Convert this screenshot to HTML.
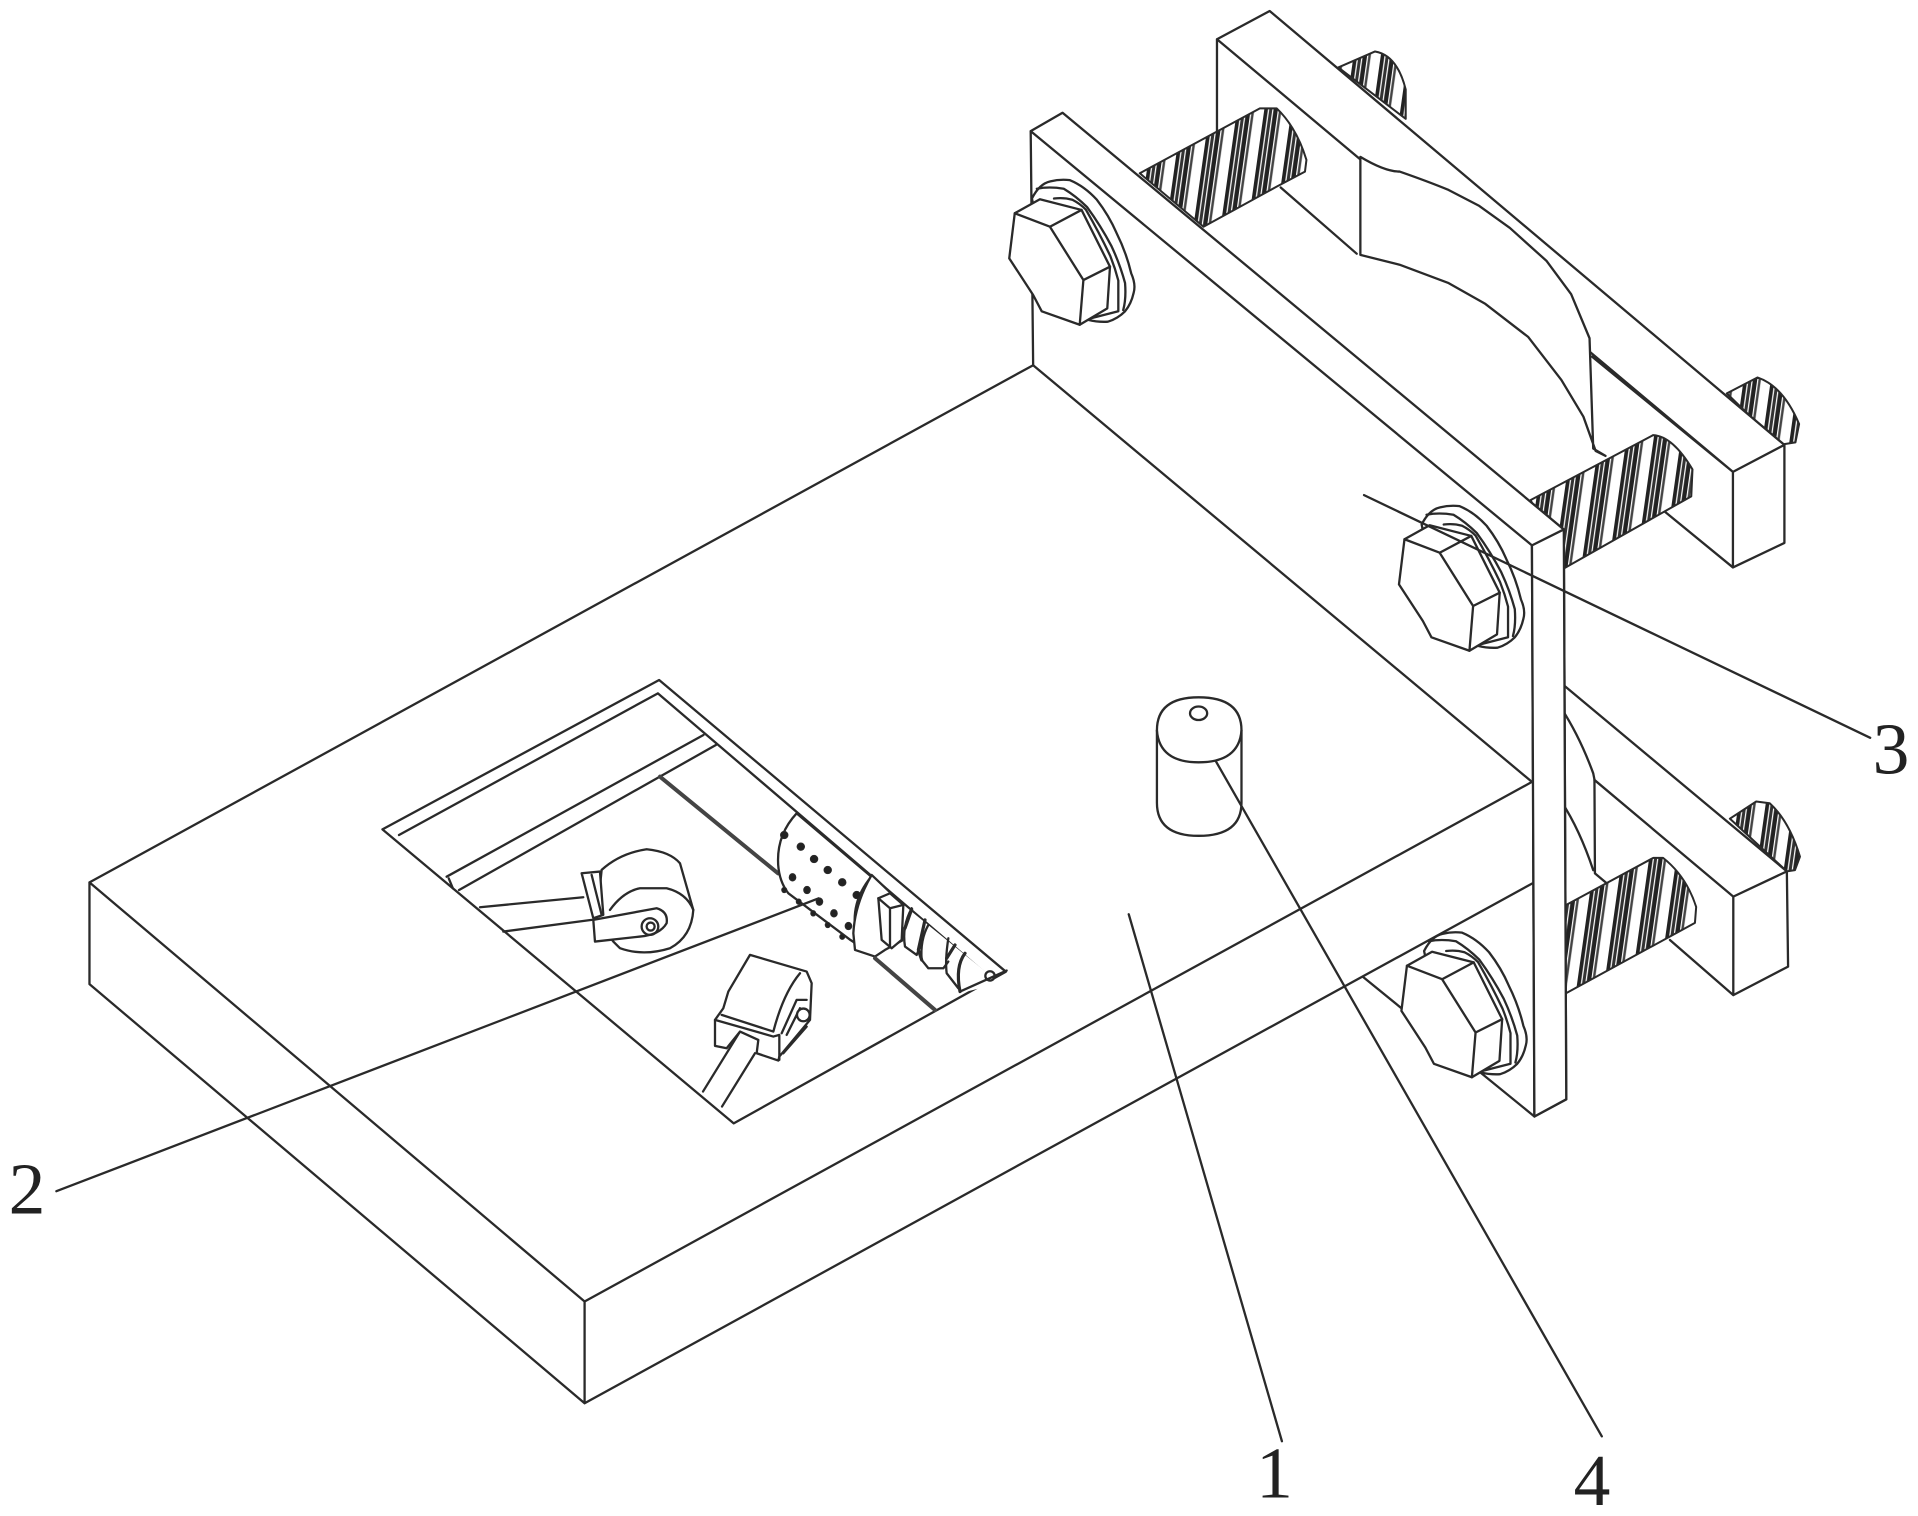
<!DOCTYPE html>
<html><head><meta charset="utf-8"><style>
html,body{margin:0;padding:0;background:#fff}
svg{display:block}
path,polygon,polyline,line,ellipse,circle{vector-effect:non-scaling-stroke;stroke:#2a2a2a;stroke-width:2.3;stroke-linejoin:round;stroke-linecap:round}
.n{fill:none}.w{fill:#fff}
.b{fill:#fff;stroke:none}
.s{fill:url(#h);stroke-width:2}
.t{font-family:"Liberation Serif",serif;font-size:60px;fill:#222;text-anchor:middle}
.k{fill:#222;stroke-width:1}
.g{fill:none;stroke:#444;stroke-width:4}
.d{fill:none;stroke-width:3.2}
</style></head><body>
<svg width="1918" height="1516" viewBox="0 0 1565 1237" xmlns="http://www.w3.org/2000/svg">
<defs>
<pattern id="h" width="22" height="22" patternUnits="userSpaceOnUse" patternTransform="rotate(8)">
<rect width="22" height="22" fill="#fff"/>
<rect x="0" width="3" height="22" fill="#222"/><rect x="4" width="2.5" height="22" fill="#333"/><rect x="7.5" width="3.5" height="22" fill="#222"/><rect x="12" width="2" height="22" fill="#444"/>
</pattern>
<g id="bolt">
<path class="w" d="M842,162 Q848,150 857,148 Q865,146 873,147 Q885,152 895,163 Q905,176 911,190 Q919,206 923,223 Q927,232 925,239 Q923,248 918,254 Q912,260 904,262.5 Q896,263 888,261 L850,200Z"/>
<path class="n" d="M846,154 Q856,152 868,154 Q878,160 887,169 Q898,184 907,201 Q914,216 918,231 Q919,244 916.5,253 M860,162 Q868,161 875,163 Q881,166 886,171 Q897,190 906,209 Q910,219 912.5,229 L912.5,254 L889,260"/>
<polygon class="w" points="828,174 848.5,162.6 882.5,171.3 905.7,217.6 903.5,251.6 881,265 850,254 843,240.7 823.5,210.8"/>
<path class="n" d="M828,174 L856.7,185 L882.5,171.3 M856.7,185 L884,228.5 L905.7,217.6 M884,228.5 L881,265"/>
</g>
</defs>
<rect width="1565" height="1237" fill="#fff"/>

<!-- upper right studs behind rear plate -->
<path class="s" d="M1092,55 L1122,42 Q1140,45 1147,73 L1147,97Z"/>
<path class="s" d="M1409,321 L1434,308 Q1455,315 1468,346 L1465,361 L1452,363Z"/>
<!-- upper rear block -->
<polygon class="b" points="993,32 1036,9 1456,363 1456,443 1414,463 1359,418 1299,366 1110,207 993,107"/>
<path class="n" d="M993,107 L993,32 L1036,9 L1456,363 L1414,385 L993,32 M1414,385 L1414,463 L1456,443 L1456,363 M1359,418 L1414,463 M1299,291 L1414,385"/>
<path class="w" d="M1110,128 Q1130,140 1142,140 Q1165,148 1182,155 L1207,168 L1232,186 L1262,213 L1282,240 L1297,276 L1300,366 L1310,372 L1302,368 L1292,340 L1274,310 L1247,275 L1212,248 L1182,231 L1142,216 L1110,208Z"/>
<path class="n" d="M1045,153 L1107,207"/>
<!-- upper studs -->
<path class="s" d="M930,141.4 L1028,88.4 L1041.7,88.4 Q1058,104 1066,130.5 L1064.8,140 L1041.7,152.3 L982,185Z"/>
<path class="s" d="M1249,408 L1349,355 Q1365,356 1381,383 L1380,405 L1274,465Z"/>

<!-- lower right studs and block -->
<path class="s" d="M1411.5,668 L1433,654 L1444,655.4 Q1460,670 1468.7,699 L1464.6,710 L1458,711Z"/>
<polygon class="b" points="1274,557 1458,711 1459,789 1414,812 1362,767 1274,700"/>
<path class="n" d="M1274,557.5 L1458,711 L1414.3,731.6 L1414.3,812 L1459,788.7 L1458,711 M1301,636.4 L1414.3,731.6 M1362.6,767 L1414.3,812"/>
<path class="n" d="M1274,578 Q1289,601 1300,631 L1301,636 L1301.4,712.6 L1311,720.7 M1274,654 Q1289,677 1300,710"/>
<path class="s" d="M1275,740 L1349,700 L1357,700 Q1376,715 1384,740 L1383,753 L1275,812Z"/>

<!-- front plate -->
<polygon class="b" points="841,107 867,92 1276,432 1278,897 1252,911 1112,797 843,298"/>
<path class="n" d="M841,107 L867,92 L1276,432 L1278,897 L1252,911 L1250,445 L841,107 L843,298"/>
<path class="n" d="M1112,797 L1252,911"/>

<!-- base -->
<polygon class="b" points="73,720 843,298 1250,638 1250,721 477,1145 73,803"/>
<path class="n" d="M73,720 L843,298 L1250,638 L477,1062 L73,720 L73,803 L477,1145 L477,1062 M477,1145 L1250,721"/>
<polygon class="w" points="1250,445 1276,432 1278,897 1252,911"/>

<use href="#bolt"/>
<use href="#bolt" transform="translate(318,266)"/>
<use href="#bolt" transform="translate(320,614)"/>

<!-- pocket -->
<g transform="translate(301.9,546.7) scale(.338,.272)">
<path class="n" d="M698,30 L30,478 L878,1360 L1535,905Z"/>
<path class="n" d="M70,495 L695,70 L1500,925"/>
<path class="n" d="M185,620 L805,195 M215,660 L835,225"/>
<path class="n" d="M190,625 L200,655"/>
<path class="g" d="M700,320 L985,610"/>
<!-- drum -->
<path class="w" d="M1030,430 Q985,490 985,570 Q985,630 1010,670 L1160,810 L1215,855 L1250,830 L1230,670 L1210,620Z"/>
<path class="n" d="M1210,620 Q1170,680 1170,750 Q1170,820 1220,855"/>
<g class="k">
<ellipse class="k" cx="1000" cy="495" rx="9" ry="11"/><ellipse class="k" cx="1040" cy="530" rx="9" ry="11"/><ellipse class="k" cx="1072" cy="567" rx="9" ry="11"/><ellipse class="k" cx="1105" cy="600" rx="9" ry="11"/><ellipse class="k" cx="1140" cy="637" rx="9" ry="11"/><ellipse class="k" cx="1175" cy="675" rx="9" ry="11"/>
<ellipse class="k" cx="1020" cy="622" rx="8" ry="11"/><ellipse class="k" cx="1055" cy="660" rx="8" ry="11"/><ellipse class="k" cx="1085" cy="695" rx="8" ry="11"/><ellipse class="k" cx="1120" cy="730" rx="8" ry="11"/><ellipse class="k" cx="1155" cy="768" rx="8" ry="11"/>
<ellipse class="k" cx="1000" cy="660" rx="6" ry="8"/><ellipse class="k" cx="1035" cy="695" rx="6" ry="8"/><ellipse class="k" cx="1070" cy="730" rx="6" ry="8"/><ellipse class="k" cx="1105" cy="765" rx="6" ry="8"/><ellipse class="k" cx="1140" cy="800" rx="6" ry="8"/>
</g>
</g>
<!-- roller 1 -->
<g transform="translate(456.9,669) scale(.272)">
<path class="n" d="M-240,262 L70,232 M-170,335 L95,300"/>
<path class="w" d="M125,150 Q180,100 260,88 Q330,95 360,130 L400,270 Q395,350 330,385 Q250,410 180,385 L160,365 L110,300Z"/>
<path class="n" d="M150,270 Q190,215 240,205 L320,205 Q380,220 400,270"/>
<polygon class="w" points="65,160 120,155 130,285 100,295"/>
<path class="n" d="M95,165 L125,285"/>
<path class="w" d="M100,300 L290,265 Q325,275 320,310 Q300,345 240,350 L105,365Z"/>
<circle class="n" cx="270" cy="320" r="25"/>
<circle class="n" cx="272" cy="320" r="12"/>
</g>
<!-- roller 2 -->
<g transform="translate(563,750.6) scale(.272)">
<path class="n" d="M150,335 L39,515 M195,400 L96,560"/>
<polygon class="w" points="180,105 350,155 365,190 360,300 268,410 265,422 200,400 205,360 150,335 110,385 75,378 75,300 100,265 115,215"/>
<path class="n" d="M95,285 L250,335 M75,300 L250,350 L268,345 L268,420 M250,335 Q280,220 330,160"/>
<path class="n" d="M275,340 L320,240 L350,240 M280,400 L350,320 M290,345 L330,265"/>
<circle class="w" cx="340" cy="285" r="19"/>
</g>
<!-- springs -->
<g transform="translate(685.4,693.5) scale(.272)">
<path class="w" d="M95,75 Q45,160 40,250 L45,300 L105,320 L135,300 L190,270 L190,165Z"/>
<path class="b" d="M190,165 L480,400 L360,430 L190,280Z"/>
<path class="w" d="M115,145 L150,130 L190,165 L185,270 L155,295 L125,270Z"/>
<path class="n" d="M115,145 L150,175 L190,165 M150,175 L150,290"/>
<path class="n" d="M215,175 Q185,230 195,290 L230,315 L240,290"/>
<path class="d" d="M215,178 L195,235 M255,210 L235,300 L245,330"/>
<path class="n" d="M265,225 Q240,270 245,330 L265,355 L310,355 L325,335"/>
<path class="n" d="M325,265 Q315,330 320,370 L355,415"/>
<path class="d" d="M375,310 Q345,350 360,425 M320,325 L345,285"/>
<path class="n" d="M360,425 L500,362"/>
<circle class="n" cx="450" cy="378" r="14"/>
<path class="g" d="M105,325 L285,480"/>
</g>

<!-- cylinder -->
<path class="w" d="M944,596 Q944,569 978,569 Q1013,569 1013,596 L1013,655 Q1013,682 978,682 Q944,682 944,655Z"/>
<path class="n" d="M944,596 Q946,622 978,622 Q1011,622 1013,596"/>
<ellipse class="w" cx="978" cy="582" rx="7" ry="5.5"/>

<!-- leaders -->
<line x1="1113" y1="404" x2="1526" y2="602"/>
<line x1="46" y1="972" x2="668" y2="733"/>
<line x1="921" y1="746" x2="1046" y2="1176"/>
<line x1="992" y1="621" x2="1307" y2="1172"/>

<text class="t" x="1543" y="631">3</text>
<text class="t" x="22" y="990">2</text>
<text class="t" x="1040" y="1222">1</text>
<text class="t" x="1299" y="1228">4</text>
</svg>
</body></html>
